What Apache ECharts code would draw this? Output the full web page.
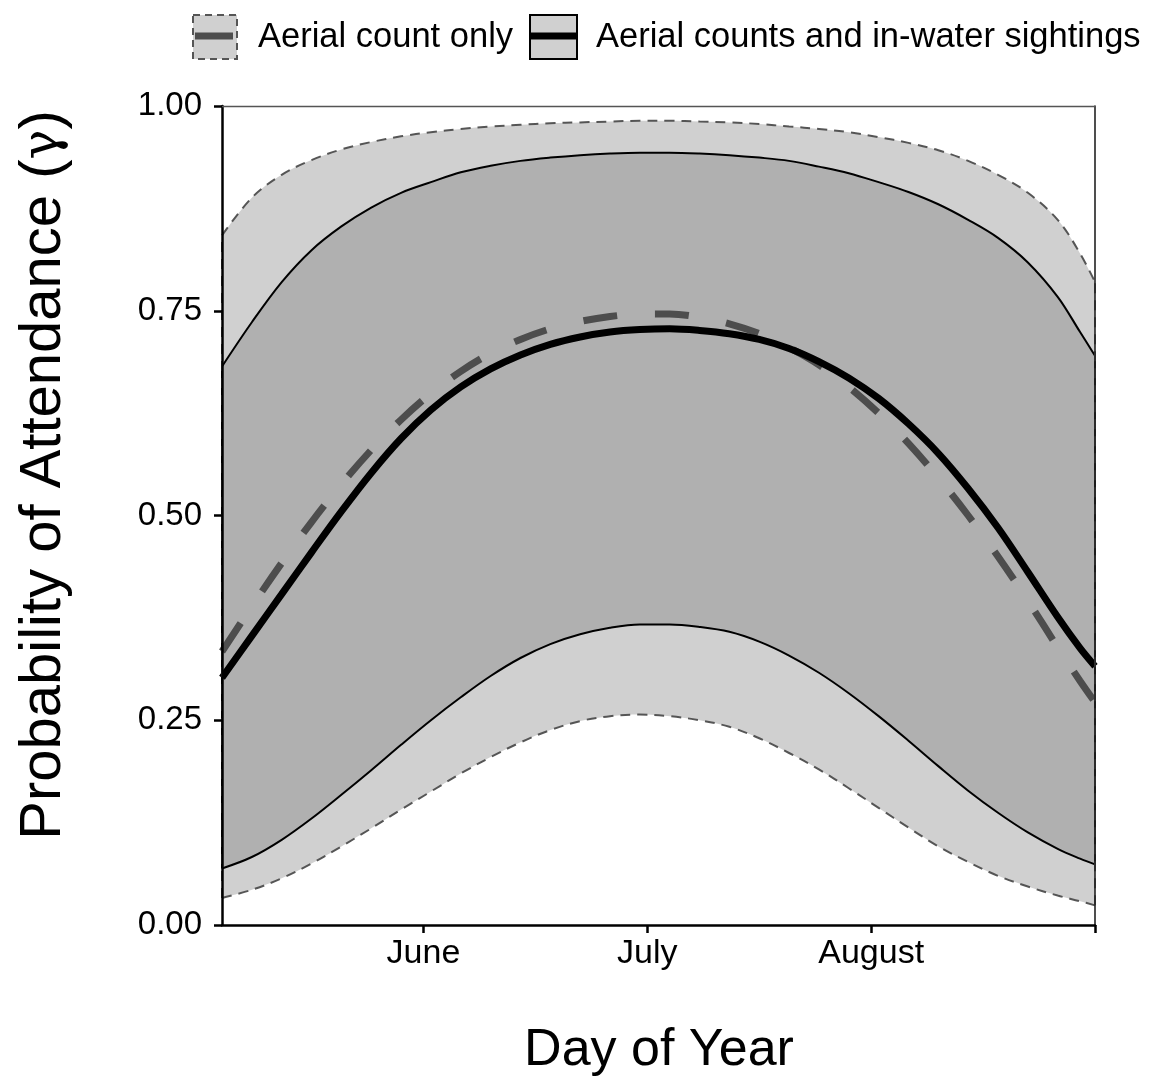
<!DOCTYPE html>
<html>
<head>
<meta charset="utf-8">
<script src="https://cdn.jsdelivr.net/npm/echarts@6/dist/echarts.min.js"></script>
<style>
  html, body { margin: 0; padding: 0; background: #fff; }
  #chart { width: 1155px; height: 1079px; }
</style>
</head>
<body>
<div id="chart"></div>
<script>
// ---- Data (day of year) ----
const days = [125,129,133,137,141,145,149,153,157,161,165,169,173,177,181,185,189,193,197,201,205,209,213,217,221,225,229,233,237,240,242];

// Aerial count only: mean and 95% band
const aerialMean  = [.334,.389,.442,.492,.538,.580,.617,.649,.676,.698,.715,.728,.737,.743,.746,.746,.742,.734,.722,.705,.684,.657,.625,.588,.546,.500,.450,.396,.339,.298,.272];
const aerialLower = [.033,.043,.057,.075,.096,.118,.141,.163,.185,.205,.223,.238,.249,.255,.257,.255,.250,.242,.228,.210,.190,.167,.143,.119,.096,.077,.060,.047,.036,.029,.024];
const aerialUpper = [.842,.888,.916,.934,.947,.956,.963,.968,.972,.975,.977,.979,.980,.981,.982,.982,.981,.980,.978,.975,.972,.968,.962,.955,.946,.933,.916,.894,.861,.820,.785];

// Aerial counts and in-water sightings: mean and 95% band
const combinedMean  = [.302,.353,.404,.455,.505,.552,.594,.629,.657,.679,.696,.709,.718,.724,.727,.728,.726,.722,.715,.704,.688,.668,.643,.612,.576,.533,.485,.431,.376,.338,.316];
const combinedLower = [.069,.083,.104,.130,.159,.189,.220,.250,.278,.304,.326,.343,.355,.363,.367,.367,.364,.358,.346,.329,.308,.283,.255,.225,.194,.164,.137,.113,.093,.081,.074];
const combinedUpper = [.682,.736,.785,.824,.853,.876,.894,.907,.919,.927,.933,.937,.940,.942,.943,.943,.942,.940,.937,.933,.926,.918,.907,.895,.880,.861,.839,.809,.767,.724,.695];

// Axis ticks
const xTickDays   = [152, 182, 212, 242];
const xTickLabels = ['June', 'July', 'August', ''];

const legendLabels = ['Aerial count only', 'Aerial counts and in-water sightings'];
const xTitle = 'Day of Year';
const yTitleMain = 'Probability of Attendance (';
const yTitleSym = '\u03B3';

const FONT = "'Liberation Sans', Arial, Helvetica, sans-serif";
const SMOOTH = 0.35;
const last = days.length - 1;

const OUTER_FILL = '#d0d0d0';
const INNER_FILL = '#b0b0b0';
const OUTER_EDGE = { color: '#555555', width: 2, type: [10, 7], cap: 'butt' };
const INNER_EDGE = { color: '#000000', width: 2, type: 'solid', cap: 'butt' };

// Each band edge is a line whose area is filled down to the axis start;
// painting order (outer upper, inner upper, inner lower, outer lower)
// leaves exactly the two ribbon tones between the curves.
function edge(vals, fill, style, z, withEnds, lo, hi) {
  const s = {
    type: 'line', z: z,
    silent: true, animation: false, symbol: 'none', smooth: SMOOTH,
    data: days.map((d, i) => [d, vals[i]]),
    lineStyle: style,
    areaStyle: { color: fill, opacity: 1, origin: 'start' }
  };
  if (withEnds) {
    s.markLine = {
      silent: true, animation: false, symbol: ['none', 'none'], label: { show: false },
      lineStyle: style,
      data: [
        [{ coord: [days[0], lo[0]] }, { coord: [days[0], hi[0]] }],
        [{ coord: [days[last], lo[last]] }, { coord: [days[last], hi[last]] }]
      ]
    };
  }
  return s;
}

function meanLine(vals, color, type, width) {
  return {
    type: 'line', z: 4,
    silent: true, animation: false, symbol: 'none', smooth: SMOOTH,
    data: days.map((d, i) => [d, vals[i]]),
    lineStyle: { color: color, width: width, type: type, cap: 'butt' }
  };
}

const chart = echarts.init(document.getElementById('chart'), null, { renderer: 'canvas' });

const series = [
  edge(aerialUpper,   OUTER_FILL, OUTER_EDGE, 2, false),
  edge(combinedUpper, INNER_FILL, INNER_EDGE, 2, false),
  edge(combinedLower, OUTER_FILL, INNER_EDGE, 2, true, combinedLower, combinedUpper),
  edge(aerialLower,   '#ffffff',  OUTER_EDGE, 2, true, aerialLower, aerialUpper),
  meanLine(aerialMean, '#4d4d4d', [34, 38], 7),
  meanLine(combinedMean, '#000000', 'solid', 7)
];

const option = {
  backgroundColor: '#ffffff',
  animation: false,
  textStyle: { fontFamily: FONT },
  grid: { left: 222, right: 60, top: 106, bottom: 154, containLabel: false },
  xAxis: [
    {
      type: 'value', min: 125, max: 242, position: 'bottom', z: 10,
      axisLine: { onZero: false, lineStyle: { color: '#000', width: 2.5 } },
      axisTick: { customValues: xTickDays, length: 8, lineStyle: { color: '#000', width: 2.5 } },
      axisLabel: {
        customValues: xTickDays,
        formatter: function (v) { const k = xTickDays.indexOf(v); return k >= 0 ? xTickLabels[k] : ''; },
        fontSize: 34, color: '#000', margin: 12, fontFamily: FONT
      },
      splitLine: { show: false }
    },
    {
      type: 'value', min: 125, max: 242, position: 'top', z: 10,
      axisLine: { onZero: false, lineStyle: { color: '#555', width: 1.3 } },
      axisTick: { show: false }, axisLabel: { show: false }, splitLine: { show: false }
    }
  ],
  yAxis: [
    {
      type: 'value', min: 0, max: 1, interval: 0.25, position: 'left', z: 10,
      axisLine: { onZero: false, lineStyle: { color: '#000', width: 2.5 } },
      axisTick: { length: 8, lineStyle: { color: '#000', width: 2.5 } },
      axisLabel: {
        formatter: function (v) { return v.toFixed(2); },
        fontSize: 33, color: '#000', margin: 20, fontFamily: FONT
      },
      splitLine: { show: false }
    },
    {
      type: 'value', min: 0, max: 1, position: 'right', z: 10,
      axisLine: { onZero: false, lineStyle: { color: '#222', width: 1.6 } },
      axisTick: { show: false }, axisLabel: { show: false }, splitLine: { show: false }
    }
  ],
  series: series,
  graphic: [
    // legend key 1
    { type: 'rect', left: 192, top: 14, shape: { width: 44, height: 44 },
      style: { fill: OUTER_FILL, stroke: '#555', lineWidth: 2, lineDash: [7, 5] }, z: 20 },
    { type: 'line', shape: { x1: 195, y1: 36, x2: 233, y2: 36 },
      style: { stroke: '#4d4d4d', lineWidth: 7 }, z: 21 },
    { type: 'text', x: 258, y: 37, z: 21,
      style: { text: legendLabels[0], fontSize: 34.5, fontFamily: FONT, fill: '#000', align: 'left', verticalAlign: 'middle' } },
    // legend key 2
    { type: 'rect', left: 529, top: 14, shape: { width: 47, height: 44 },
      style: { fill: OUTER_FILL, stroke: '#000', lineWidth: 2 }, z: 20 },
    { type: 'line', shape: { x1: 530, y1: 36, x2: 576, y2: 36 },
      style: { stroke: '#000', lineWidth: 7 }, z: 21 },
    { type: 'text', x: 596, y: 37, z: 21,
      style: { text: legendLabels[1], fontSize: 34.5, fontFamily: FONT, fill: '#000', align: 'left', verticalAlign: 'middle' } },
    // axis titles
    { type: 'text', x: 659, y: 1051, z: 21,
      style: { text: xTitle, fontSize: 52, fontFamily: FONT, fill: '#000', align: 'center', verticalAlign: 'middle' } },
    { type: 'text', x: 44, y: 475, rotation: Math.PI / 2, z: 21,
      style: {
        text: yTitleMain + '{g|' + yTitleSym + '}' + ')',
        fontSize: 58, fontFamily: FONT, fill: '#000', align: 'center', verticalAlign: 'middle',
        rich: { g: { fontSize: 50, fontFamily: "'DejaVu Serif', serif", fontStyle: 'normal', fill: '#000' } }
      } }
  ]
};

chart.setOption(option);
</script>
</body>
</html>
